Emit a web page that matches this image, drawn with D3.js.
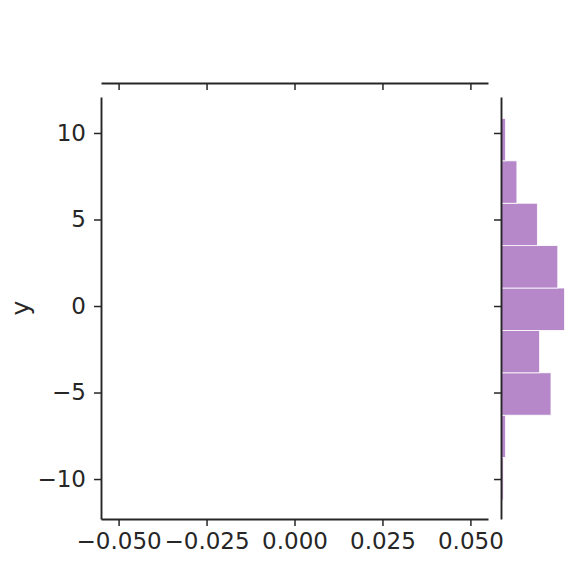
<!DOCTYPE html>
<html>
<head>
<meta charset="utf-8">
<script src="https://cdn.jsdelivr.net/npm/d3@7"></script>
<style>
  html, body { margin: 0; padding: 0; background: #ffffff; }
  svg { display: block; }
  text { font-family: "DejaVu Sans", sans-serif; fill: #262626; }
</style>
</head>
<body>
<svg id="chart" width="577" height="566"></svg>
<script>
// ---- data ----
const xTicks = [-0.05, -0.025, 0, 0.025, 0.05];
const yTicks = [-10, -5, 0, 5, 10];
const yBinEdges = [-11.21, -8.76, -6.31, -3.86, -1.41, 1.04, 3.49, 5.94, 8.39, 10.84];
const yCounts = [1, 2, 22, 17, 28, 25, 16, 7, 2];
const yLabel = "y";

// ---- layout ----
const svg = d3.select("#chart");
const ink = "#262626";
const barColor = "#b687c9";

const x = d3.scaleLinear().domain([-0.055, 0.055]).range([101, 488]);
const y = d3.scaleLinear().domain([-12.31, 12.08]).range([519, 97]);
const hx = d3.scaleLinear().domain([0, 29.4]).range([501, 567.8]);

function styleAxis(g) {
  g.attr("font-size", null).attr("font-family", null);
  g.select(".domain").attr("stroke", ink).attr("stroke-width", 1.9);
  g.selectAll(".tick line").attr("stroke", ink).attr("stroke-width", 1.5);
  g.selectAll(".tick text")
    .attr("fill", ink)
    .style("font-family", "'DejaVu Sans', sans-serif")
    .style("font-size", "23px");
}

// marginal histogram bars (right)
const bins = yCounts.map((c, i) => ({ lo: yBinEdges[i], hi: yBinEdges[i + 1], c }));
svg.append("g").selectAll("rect").data(bins).join("rect")
  .attr("x", hx(0))
  .attr("y", d => y(d.hi))
  .attr("width", d => hx(d.c) - hx(0))
  .attr("height", d => y(d.lo) - y(d.hi))
  .attr("fill", barColor)
  .attr("stroke", "#ffffff")
  .attr("stroke-width", 0.8);

// main x axis (bottom)
svg.append("g")
  .attr("transform", "translate(0,519)")
  .call(d3.axisBottom(x).tickValues(xTicks).tickFormat(d3.format(".3f"))
    .tickSize(7).tickSizeOuter(0).tickPadding(7))
  .call(styleAxis);

// main y axis (left)
svg.append("g")
  .attr("transform", "translate(101,0)")
  .call(d3.axisLeft(y).tickValues(yTicks).tickFormat(d3.format("d"))
    .tickSize(7).tickSizeOuter(0).tickPadding(8))
  .call(styleAxis);

// top marginal axis (spine with ticks, no labels)
svg.append("g")
  .attr("transform", "translate(0,83)")
  .call(d3.axisBottom(x).tickValues(xTicks).tickFormat(() => "")
    .tickSize(7).tickSizeOuter(0))
  .call(styleAxis);

// right marginal axis (left spine with ticks, no labels)
svg.append("g")
  .attr("transform", "translate(501,0)")
  .call(d3.axisLeft(y).tickValues(yTicks).tickFormat(() => "")
    .tickSize(7).tickSizeOuter(0))
  .call(styleAxis);

// y label
svg.append("text")
  .attr("transform", `translate(29,${(y.range()[0] + y.range()[1]) / 2}) rotate(-90)`)
  .attr("text-anchor", "middle")
  .style("font-size", "25px")
  .text(yLabel);
</script>
</body>
</html>
